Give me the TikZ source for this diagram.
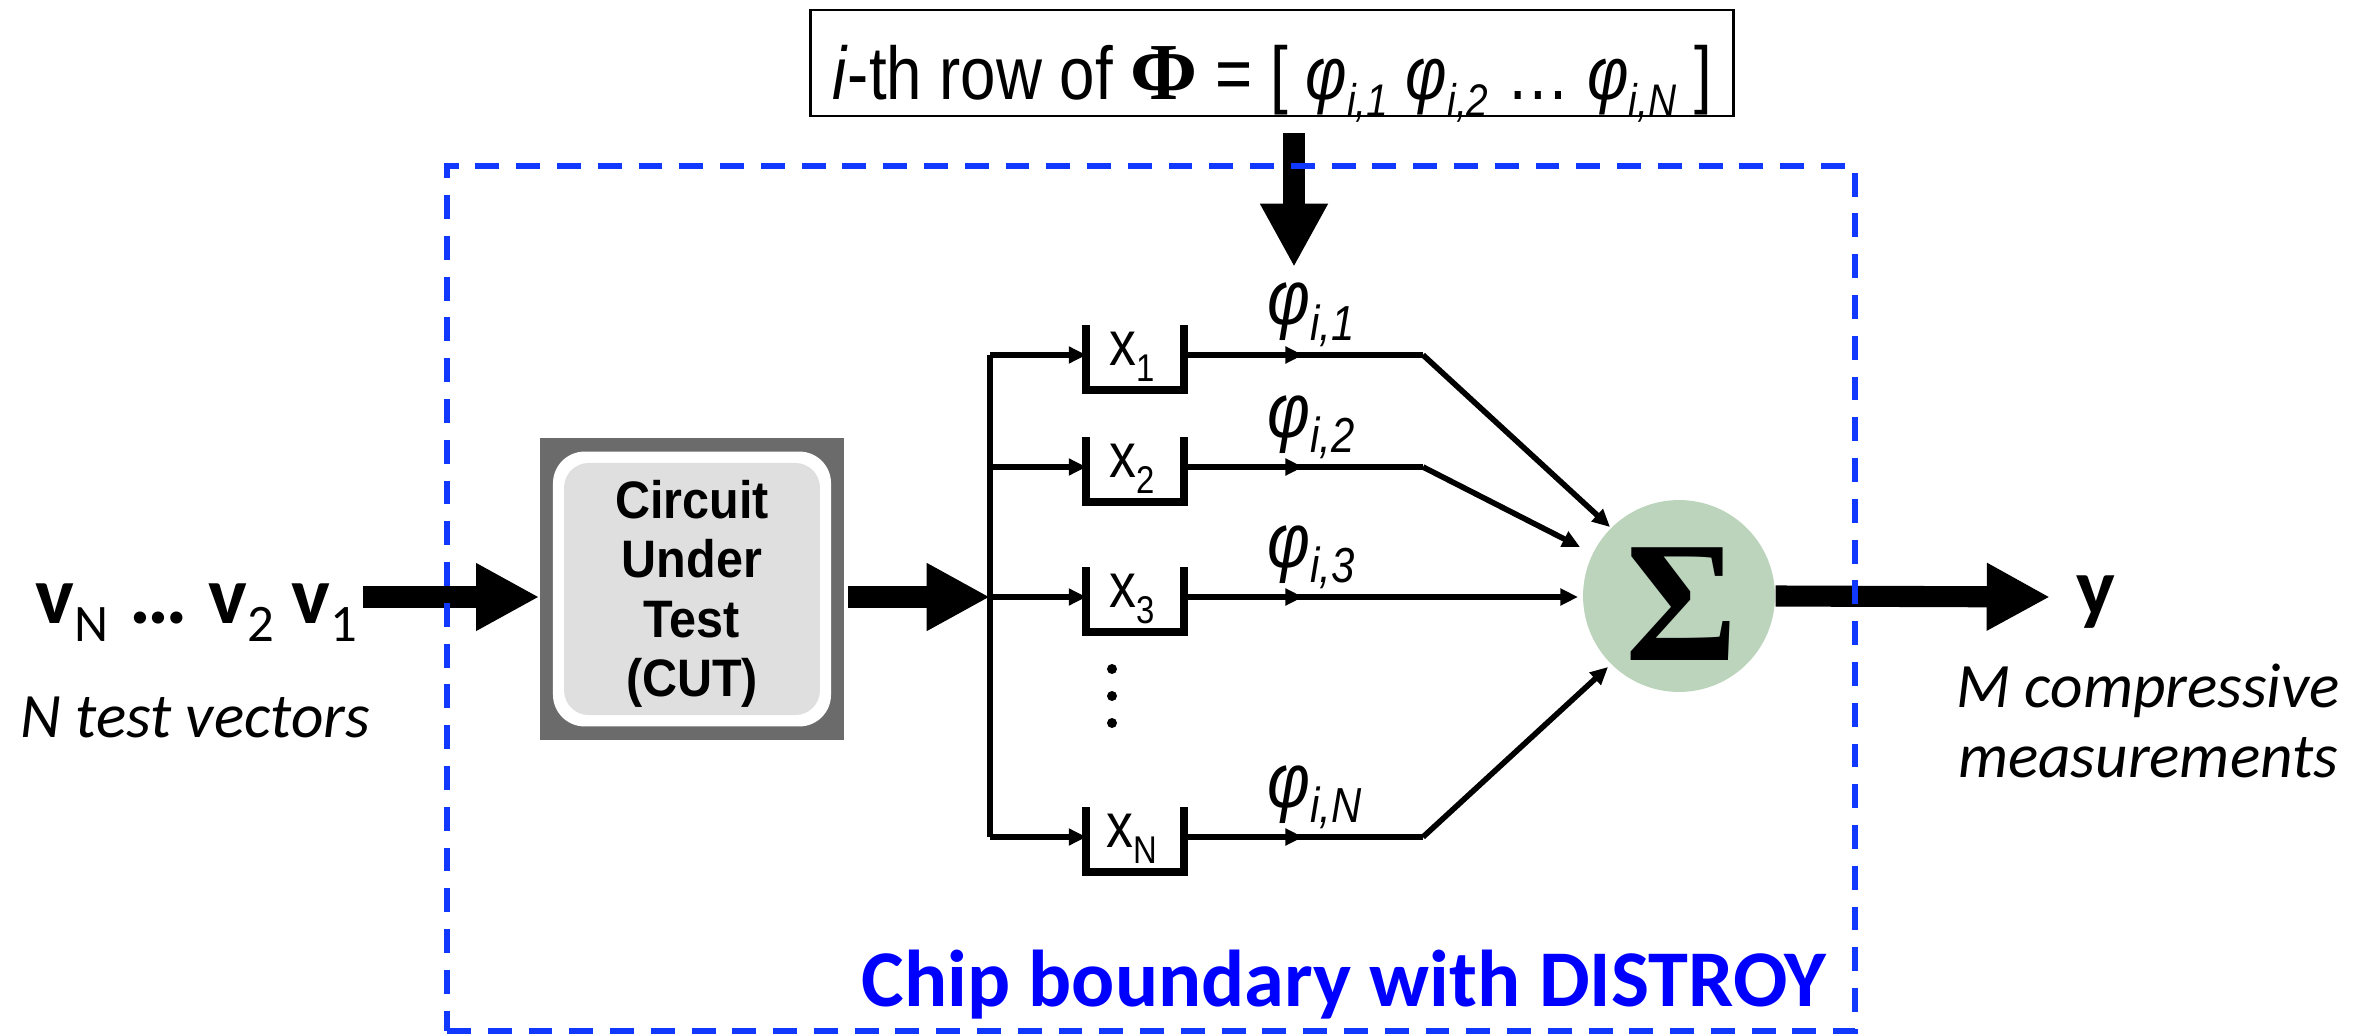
\documentclass[tikz,border=0pt]{standalone}
\usepackage{fontspec}
\setmainfont{Carlito}
\newfontfamily\arialf[FakeStretch=0.92]{Liberation Sans}
\newfontfamily\narrowf[FakeStretch=0.85]{Liberation Sans}
\newfontfamily\timesf{Liberation Serif}
\usetikzlibrary{arrows.meta,calc}
\definecolor{cutdark}{HTML}{6B6B6B}
\definecolor{cutlight}{HTML}{DFDFDF}
\definecolor{sumgreen}{HTML}{BCD4BC}
\definecolor{chipblue}{RGB}{16,56,255}
\definecolor{txtblue}{RGB}{0,0,255}
\newcommand\dsub[3]{\raisebox{-#1}{\fontsize{#2}{#2}\selectfont #3}}
\begin{document}
\begin{tikzpicture}[x=0.2845pt,y=-0.2845pt,
 bigarrow/.style={line width=6pt,-{Triangle[length=18pt,width=18pt]}},
 thinarrow/.style={line width=1.6pt,-{Triangle[length=5pt,width=4.6pt]}},
 wire/.style={line width=1.6pt},
 regline/.style={line width=2.2pt},
 regbox/.style={minimum width=27.3pt,minimum height=17.9pt,inner sep=0pt},
 reglabel/.style={anchor=base,inner sep=0pt,font=\narrowf\fontsize{18}{18}\selectfont},
 philabel/.style={anchor=base west,inner sep=0pt,font=\narrowf\fontsize{22}{22}\selectfont},
 chipbox/.style={draw=chipblue,line width=1.7pt,dash pattern=on 6.8pt off 4.8pt,inner sep=0pt},
]
\useasboundingbox (0,0) rectangle (2374,1036);

% top row-of-Phi box
\node[draw,line width=0.6pt,minimum width=262.6pt,text height=25.3pt,text depth=4.8pt,inner sep=0pt,font=\narrowf\fontsize{21.3}{26}\selectfont] (rowbox) at (1272,63)
 {\textit{i}-th row of {\timesf\bfseries\fontsize{23}{26}\selectfont Φ} = [ \textit{φ}\dsub{5pt}{13}{\itshape i,1} \textit{φ}\dsub{5pt}{13}{\itshape i,2} … \textit{φ}\dsub{5pt}{13}{\itshape i,N} ]};
\coordinate (phiA) at (1294,133);
\coordinate (phiB) at (1294,267);
\draw[bigarrow] (phiA) -- (phiB);

% CUT
\node[fill=cutdark,minimum width=86.5pt,minimum height=86.2pt,inner sep=0pt] (cut) at (692,589) {};
\node[fill=white,rounded corners=9pt,minimum width=79.1pt,minimum height=78.2pt,inner sep=0pt] (cutw) at (692,589) {};
\node[fill=cutlight,rounded corners=7pt,minimum width=72.8pt,minimum height=71.7pt,inner sep=0pt] (cutg) at (692,589) {};
\node[align=center,inner sep=0pt,font=\arialf\bfseries\fontsize{15}{16.9}\selectfont] (cuttxt) at (692,594) {Circuit\\Under\\Test\\(CUT)};

% inputs
\node[anchor=base west,inner sep=0pt,font=\fontsize{23.3}{28}\selectfont] (vin) at (35,623)
 {\textbf{v}\dsub{5.4pt}{15}{N}\hspace{6pt}\textbf{…}\hspace{6pt}\textbf{v}\dsub{5.4pt}{15}{2}\hspace{5pt}\textbf{v}\dsub{5.4pt}{15}{1}};
\node[anchor=base west,inner sep=0pt,font=\itshape\fontsize{18}{20}\selectfont] (nvec) at (20,737) {N test vectors};
\coordinate (inS) at (363,597);
\draw[bigarrow] (inS) -- (inS -| cut.west);

% bus
\coordinate (bus) at (990,597);
\draw[bigarrow] ($(cut.east |- bus)+(3,0)$) -- (bus);
\coordinate (b1) at (990,355);
\coordinate (bN) at (990,837);
\draw[wire] (b1) -- (bN);

% Sigma
\node[circle,fill=sumgreen,minimum size=54.6pt,inner sep=0pt] (sig) at (1679,596) {};
\node[inner sep=0pt,font=\timesf\bfseries\fontsize{49}{49}\selectfont] (sigt) at (1682,604) {Σ};

% registers
\foreach \n/\yy/\lab/\dx/\dy in {1/355/1/-69/-69, 2/467/2/-99/-49, 3/597/3/-101/1, N/837/N/-71/71}{
  \coordinate (b\n) at (990,\yy);
  \node[regbox] (r\n) at (1135,\yy+2.5) {};
  \draw[regline] (r\n.north west) -- (r\n.south west) -- (r\n.south east) -- (r\n.north east);
  \draw[thinarrow] (b\n) -- (b\n -| r\n.west);
  \node[reglabel] (l\n) at (1132,\yy+10) {x\dsub{4.8pt}{11}{\lab}};
  \coordinate (m\n) at (1303,\yy);
  \coordinate (c\n) at (1423,\yy);
  \draw[wire] (b\n -| r\n.east) -- (c\n);
  \draw[thinarrow] (b\n -| r\n.east) -- (m\n);
  \draw[thinarrow] (c\n) -- ($(sig.center)+(\dx,\dy)$);
  \node[philabel] (p\n) at (1267,\yy-30) {\textit{φ}\dsub{4.5pt}{14}{\itshape i,\lab}};
}
\fill (1112,669) circle[radius=5];
\fill (1112,696) circle[radius=5];
\fill (1112,723) circle[radius=5];

% output
\coordinate (yA) at (2050,597);
\draw[bigarrow] (sig.east) -- (yA);
\node[anchor=base west,inner sep=0pt,font=\bfseries\fontsize{23.3}{28}\selectfont] (yout) at (2076,615) {y};
\node[anchor=base,align=center,inner sep=0pt,font=\itshape\fontsize{18}{19.9}\selectfont] (mtxt) at (2148,777) {M compressive\\measurements};

% chip boundary
\node[chipbox,minimum width=400.6pt,minimum height=246.1pt] (chip) at (1151,598.5) {};
\node[anchor=base east,inner sep=0pt,text=txtblue,font=\bfseries\fontsize{22.9}{27}\selectfont] (chiptxt) at (1827,1006) {Chip boundary with DISTROY};
\end{tikzpicture}
\end{document}
